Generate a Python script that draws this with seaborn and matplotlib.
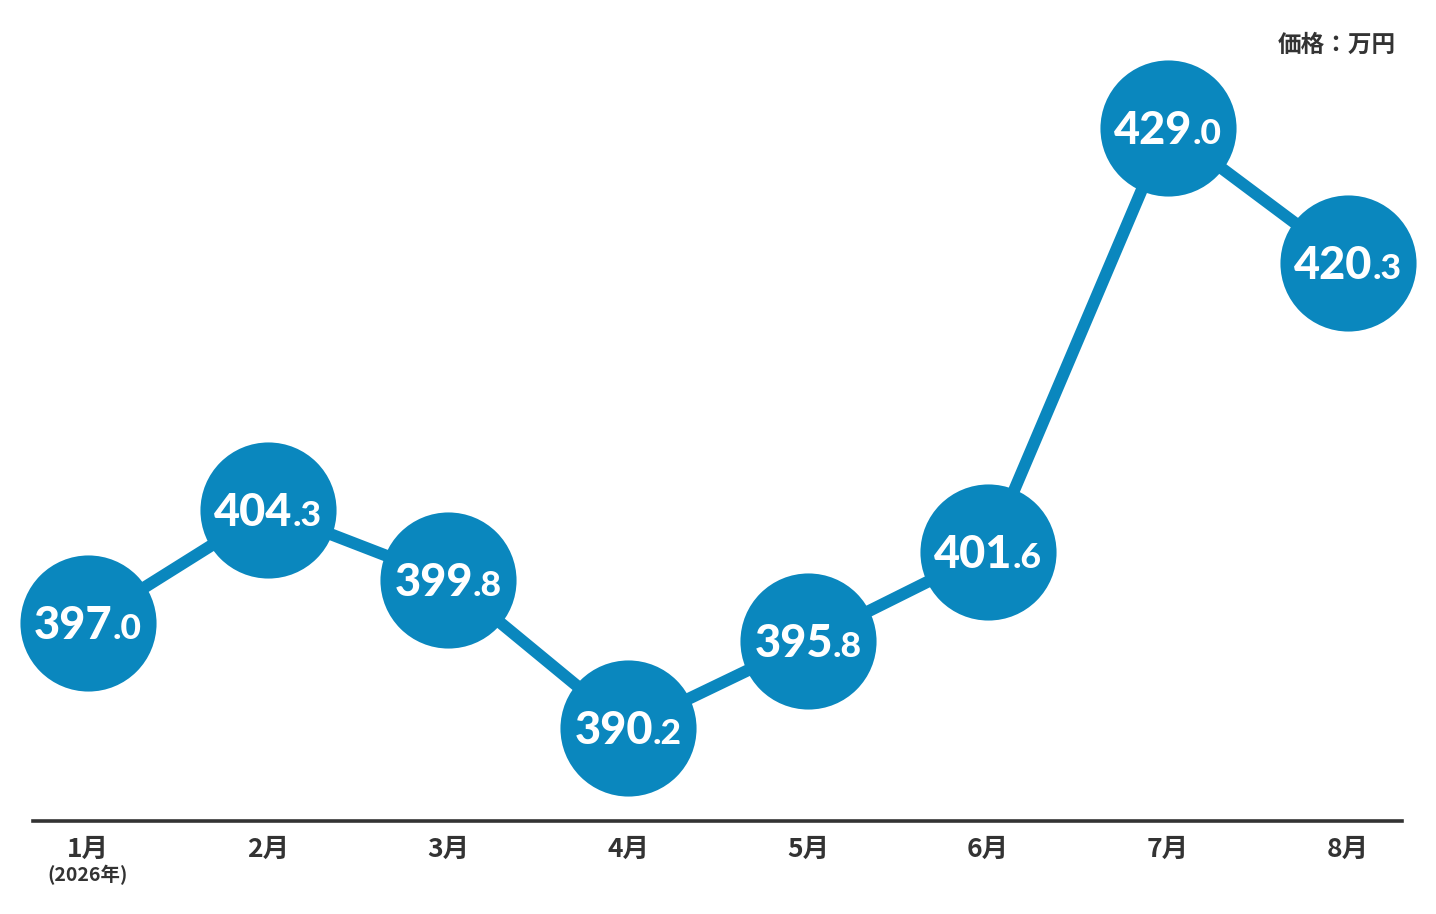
import matplotlib
matplotlib.use("Agg")
import matplotlib.pyplot as plt
import matplotlib.transforms as mtransforms
import seaborn as sns
import pandas as pd

months = ["1月", "2月", "3月", "4月", "5月", "6月", "7月", "8月"]
prices = [397.0, 404.3, 399.8, 390.2, 395.8, 401.6, 429.0, 420.3]
year_note = "(2026年)"
unit_label = "価格：万円"

blue = "#0a87be"
dark = "#333333"

sns.set_style("white")
plt.rcParams["font.family"] = ["Noto Sans CJK JP", "DejaVu Sans"]

df = pd.DataFrame({"x": range(len(months)), "price": prices})

W, H = 1436, 914
fig = plt.figure(figsize=(W / 100, H / 100), dpi=100)
# axes box in pixels: left 33, right 1402, bottom (baseline) 821, top 0
ax = fig.add_axes([33 / W, (H - 821) / H, (1402 - 33) / W, 821 / H])

sns.lineplot(data=df, x="x", y="price", ax=ax, color=blue, linewidth=8.6,
             marker="o", markersize=98, markeredgewidth=0, clip_on=False)

ax.set_xlim(-0.3056, 7.3)
ax.set_ylim(384.18, 437.29)

ax.set_xticks(range(len(months)))
ax.set_xticklabels(months, fontsize=19, fontweight="bold", color=dark)
ax.tick_params(axis="x", length=0, pad=10.5)
ax.set_yticks([])
ax.set_xlabel("")
ax.set_ylabel("")
for side in ["top", "left", "right"]:
    ax.spines[side].set_visible(False)
ax.spines["bottom"].set_color(dark)
ax.spines["bottom"].set_linewidth(2.6)

# year note under first month
ax.text(0, -0.066, year_note, transform=mtransforms.blended_transform_factory(ax.transData, ax.transAxes),
        ha="center", va="center", fontsize=14, fontweight="bold", color=dark)

# unit label top right
fig.text(1396 / W, 1 - 45 / H, unit_label, ha="right", va="center",
         fontsize=17, fontweight="bold", color=dark)

# value labels: big integer part + smaller decimal part, centred on each circle
fig.canvas.draw()
renderer = fig.canvas.get_renderer()
num_font = dict(family=["Lato", "DejaVu Sans"], weight="black", color="white")
for i, v in enumerate(prices):
    s = f"{v:.1f}"
    ip, dp = s.split(".")
    dp = "." + dp
    t1 = ax.text(i, v, ip, fontsize=32.5, ha="left", va="baseline", **num_font)
    t2 = ax.text(i, v, dp, fontsize=25.5, ha="left", va="baseline", **num_font)
    w1 = t1.get_window_extent(renderer).width
    w2 = t2.get_window_extent(renderer).width
    start = -(w1 + w2) / 2
    t1.set_transform(mtransforms.offset_copy(ax.transData, fig, x=start, y=-16, units="dots"))
    t2.set_transform(mtransforms.offset_copy(ax.transData, fig, x=start + w1, y=-16, units="dots"))

fig.savefig("out.png", dpi=100)
